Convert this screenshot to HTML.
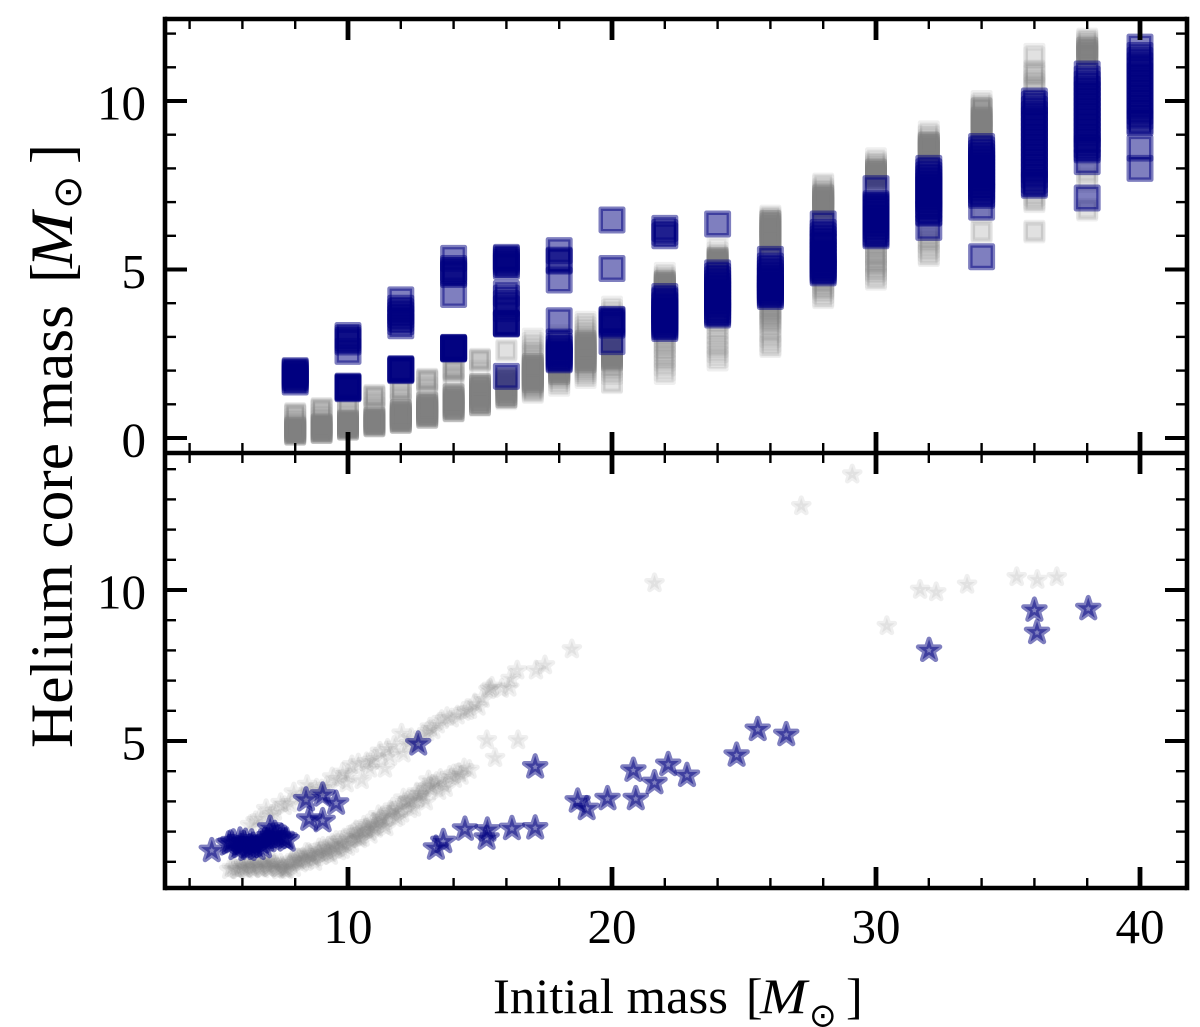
<!DOCTYPE html>
<html>
<head>
<meta charset="utf-8">
<title>Helium core mass vs initial mass</title>
<style>
html,body{margin:0;padding:0;background:#fff;}
svg{display:block;}
text{font-family:"Liberation Serif",serif;fill:#000;}
</style>
</head>
<body>
<svg id="chart" xmlns="http://www.w3.org/2000/svg" width="1200" height="1027" viewBox="0 0 1200 1027">
<g id="gGraySq"></g>
<g id="gBlueSq"></g>
<g id="gGrayStar"></g>
<g id="gBlueStar"></g>
<g id="gAxes"></g>
<g id="gLabels"></g>
<g>
<text x="493" y="1013" font-size="50" textLength="235" lengthAdjust="spacingAndGlyphs">Initial mass</text>
<text x="746" y="1013" font-size="50">[</text>
<text x="760" y="1013" font-size="50" font-style="italic" textLength="47" lengthAdjust="spacingAndGlyphs">M</text>
<text x="809" y="1026.5" font-size="33" style="font-family:'DejaVu Sans',sans-serif">⊙</text>
<text x="846" y="1013" font-size="50">]</text>
</g>
<g transform="translate(72,748) rotate(-90)">
<text x="0" y="0" font-size="60" textLength="443" lengthAdjust="spacingAndGlyphs">Helium core mass</text>
<text x="465" y="0" font-size="60">[</text>
<text x="480" y="0" font-size="60" font-style="italic" textLength="56" lengthAdjust="spacingAndGlyphs">M</text>
<text x="539" y="9" font-size="40" style="font-family:'DejaVu Sans',sans-serif">⊙</text>
<text x="584" y="0" font-size="60">]</text>
</g>
</svg>
<script>
var xTickMajor = [10,20,30,40];
var xTickMinor = [4,6,8,12,14,16,18,22,24,26,28,32,34,36,38];
var topTickMajor = [0,5,10];
var topTickMinor = [1,2,3,4,6,7,8,9,11,12];
var botTickMajor = [5,10];
var botTickMinor = [1,2,3,4,6,7,8,9,11,12,13,14];
var xTickLabels = ["10","20","30","40"];
var topTickLabels = ["0","5","10"];
var botTickLabels = ["5","10"];

var graySquareMasses = [8,9,10,11,12,13,14,15,16,17,18,19,20,22,24,26,28,30,32,34,36,38];
var graySquareCores = [
[0.10,0.12,0.14,0.16,0.18,0.20,0.22,0.24,0.26,0.28,0.30,0.32,0.34,0.36,0.40,0.48,0.56,0.66,0.68,0.70,0.72,0.74],
[0.15,0.17,0.19,0.21,0.23,0.25,0.27,0.29,0.31,0.33,0.35,0.37,0.39,0.41,0.50,0.60,0.70,0.81,0.83,0.85,0.87,0.89],
[0.25,0.27,0.29,0.31,0.33,0.35,0.37,0.39,0.41,0.43,0.45,0.47,0.49,0.51,0.53,0.55,0.70,0.85,0.98,1.00,1.02,1.04],
[0.35,0.37,0.39,0.41,0.43,0.45,0.47,0.49,0.51,0.53,0.55,0.57,0.59,0.62,0.75,0.90,1.05,1.20,1.22,1.24,1.26,1.28],
[0.45,0.47,0.49,0.51,0.53,0.55,0.57,0.59,0.61,0.63,0.65,0.67,0.69,0.71,0.73,0.75,0.77,0.79,0.81,0.83,1.00,1.20,1.39,1.41,1.43,1.45,1.47],
[0.60,0.63,0.66,0.68,0.70,0.72,0.74,0.76,0.78,0.80,0.82,0.84,0.86,0.88,0.90,0.92,0.95,0.98,1.00,1.03,1.07,1.30,1.50,1.68,1.70,1.72,1.74,1.76],
[0.78,0.82,0.85,0.88,0.90,0.92,0.94,0.96,0.98,1.00,1.02,1.04,1.06,1.08,1.10,1.12,1.15,1.18,1.20,1.23,1.26,1.30,1.60,1.80,1.98,2.00,2.02,2.04,2.06,2.08],
[0.95,0.98,1.02,1.05,1.08,1.11,1.14,1.17,1.20,1.23,1.26,1.29,1.32,1.35,1.38,1.41,1.44,1.47,1.50,1.53,1.56,1.60,2.00,2.29,2.31,2.33,2.35],
[1.15,1.19,1.23,1.26,1.29,1.32,1.35,1.38,1.41,1.44,1.47,1.50,1.53,1.56,1.59,1.62,1.65,1.68,1.71,1.74,1.77,1.80,2.58,2.62],
[1.34,1.38,1.42,1.46,1.50,1.53,1.56,1.59,1.62,1.65,1.68,1.71,1.74,1.77,1.80,1.83,1.86,1.89,1.92,1.95,1.98,2.01,2.04,2.07,2.10,2.13,2.16,2.20,2.35,2.45,2.52,2.60,2.72,2.82,2.95],
[1.55,1.62,1.70,1.78,1.82,1.86,1.90,1.93,1.96,1.99,2.02,2.05,2.08,2.11,2.14,2.17,2.20,2.23,2.26,2.29,2.32,2.36,2.40,2.50,2.60,2.75,2.90,3.05],
[1.78,1.85,1.92,1.98,2.04,2.10,2.16,2.22,2.25,2.28,2.31,2.34,2.37,2.40,2.43,2.46,2.49,2.52,2.55,2.58,2.61,2.64,2.67,2.70,2.73,2.76,2.79,2.82,2.85,2.90,3.00,3.08,3.18,3.28,3.37,3.45],
[1.63,1.66,1.90,2.00,2.10,2.18,2.25,2.30,2.33,2.36,2.40,2.43,2.46,2.50,2.53,2.56,2.60,2.63,2.66,2.70,2.75,2.80,3.55,3.60,3.70,3.80,3.90],
[1.90,2.00,2.15,2.30,2.40,2.50,2.60,2.70,2.80,2.90,3.00,3.10,4.30,4.33,4.36,4.39,4.42,4.45,4.48,4.51,4.54,4.57,4.60,4.63,4.66,4.70,4.75,4.80,4.90],
[2.30,2.40,2.55,2.70,2.80,2.95,3.10,3.25,3.40,3.50,3.60,5.00,5.03,5.06,5.09,5.12,5.15,5.18,5.21,5.24,5.27,5.30,5.33,5.36,5.40,5.50,5.66],
[2.70,2.75,2.85,3.00,3.15,3.30,3.40,3.45,3.50,3.55,3.60,3.65,3.70,3.75,3.80,3.85,3.90,4.00,4.10,5.40,5.50,5.60,5.70,5.75,5.78,5.81,5.84,5.87,5.90,5.93,5.96,5.99,6.02,6.05,6.08,6.11,6.14,6.17,6.20,6.23,6.26,6.29,6.32,6.35,6.38,6.41,6.44,6.47,6.50,6.55,6.60],
[4.15,4.20,4.30,4.40,4.45,4.50,4.60,4.70,4.80,6.50,6.60,6.70,6.76,6.80,6.83,6.86,6.89,6.92,6.95,6.98,7.01,7.04,7.07,7.10,7.13,7.16,7.19,7.22,7.25,7.30,7.35,7.40,7.50,7.55],
[4.70,4.75,4.85,4.95,5.00,5.10,5.20,5.25,5.30,5.40,5.45,5.50,5.60,5.70,5.80,5.90,7.50,7.60,7.65,7.70,7.73,7.76,7.79,7.82,7.85,7.88,7.91,7.94,7.97,8.00,8.05,8.10,8.15,8.20,8.30],
[5.40,5.45,5.55,5.65,5.80,5.90,6.00,6.10,8.20,8.30,8.40,8.45,8.50,8.53,8.56,8.59,8.62,8.65,8.68,8.71,8.74,8.77,8.80,8.85,8.95,9.00,9.10],
[6.10,6.15,6.70,8.80,8.90,9.00,9.05,9.10,9.13,9.16,9.19,9.22,9.25,9.28,9.31,9.34,9.37,9.40,9.43,9.46,9.49,9.52,9.55,9.60,9.70,9.75,9.80,9.85,9.90,10.00],
[6.10,6.15,7.00,7.05,7.10,7.20,10.30,10.40,10.50,10.60,10.75,10.80,10.85,10.90,11.30,11.40],
[6.75,6.80,7.60,7.70,7.90,11.10,11.20,11.30,11.35,11.40,11.45,11.50,11.55,11.60,11.65,11.70,11.75,11.80,11.85]
];
var graySolidMasses = [8,9,10,11,12,13,14,15,16,17,18,19,20,22,24,26,28,30,32,34,38];
var graySolidCores = [
[0.10,0.15,0.20,0.25,0.30],
[0.15,0.20,0.25,0.30,0.35,0.40],
[0.25,0.30,0.35,0.40,0.45,0.50],
[0.35,0.40,0.45,0.50,0.55,0.60],
[0.45,0.50,0.55,0.60,0.65,0.70,0.75,0.83],
[0.60,0.66,0.72,0.78,0.84,0.90,0.96,1.05],
[0.80,0.87,0.94,1.00,1.07,1.14,1.20,1.30],
[0.98,1.06,1.14,1.22,1.30,1.38,1.46,1.55,1.60],
[1.20,1.28,1.36,1.44,1.52,1.60,1.68,1.76],
[1.66,1.72,1.78,1.84,1.90,1.96,2.02,2.08,2.14,2.20],
[1.90,1.96,2.02,2.08,2.14,2.20,2.26,2.32],
[2.25,2.32,2.39,2.46,2.53,2.60,2.67,2.74,2.81,2.88],
[2.30,2.36,2.42,2.48,2.54,2.60,2.66,2.72,2.78],
[4.45,4.50,4.55,4.60,4.65],
[5.10,5.15,5.20,5.25,5.30,5.35],
[5.80,5.88,5.96,6.04,6.12,6.20,6.28,6.36,6.44],
[6.80,6.88,6.96,7.04,7.12,7.20],
[7.72,7.78,7.84,7.90,7.96],
[8.52,8.58,8.64,8.70,8.76],
[9.15,9.22,9.29,9.36,9.43,9.50,9.78],
[11.35,11.42,11.50,11.58]
];

var blueSquareMasses = [8,10,12,14,16,18,20,22,24,26,28,30,32,34,36,38,40];
var blueSquareCores = [
[1.66,1.72,1.78,1.82,1.86,1.90,1.94,1.97,2.00],
[1.46,1.48,1.50,1.52,1.54,1.50,2.57,2.85,2.90,2.97,3.04],
[2.00,2.02,2.04,2.06,2.03,3.33,3.45,3.55,3.65,3.75,3.85,4.10],
[2.64,2.65,2.66,2.67,2.68,2.69,4.26,4.85,4.90,4.97,5.03,5.33],
[1.83,3.38,3.40,3.40,3.42,3.84,3.99,4.15,4.29,5.09,5.15,5.22,5.28,5.33,5.36],
[2.32,2.35,2.40,2.45,2.50,2.55,2.65,2.72,2.85,3.48,4.69,5.25,5.28,5.56],
[2.86,3.35,3.40,3.45,3.50,3.52,5.03,6.47],
[3.25,3.30,3.35,3.40,3.45,3.50,3.55,3.60,3.70,3.75,3.80,3.90,3.95,4.05,4.10,4.20,6.00,6.10,6.22],
[3.65,3.70,3.75,3.80,3.90,4.00,4.10,4.20,4.30,4.40,4.50,4.60,4.70,4.80,4.90,6.35],
[4.20,4.25,4.30,4.35,4.40,4.45,4.50,4.60,4.70,4.80,4.90,5.00,5.10,5.30],
[4.90,4.95,5.00,5.05,5.10,5.15,5.25,5.35,5.45,5.55,5.70,5.80,5.90,6.00,6.10,6.35],
[6.00,6.05,6.10,6.20,6.30,6.40,6.50,6.60,6.70,6.80,6.85,6.90,6.95,7.40],
[6.25,6.67,6.70,6.80,6.90,7.00,7.10,7.20,7.30,7.40,7.50,7.60,7.70,7.80,7.90,8.00],
[5.38,6.85,7.20,7.25,7.35,7.45,7.55,7.65,7.75,7.85,7.95,8.05,8.15,8.25,8.35,8.45,8.55,8.65],
[7.50,7.55,7.65,7.80,7.95,8.10,8.25,8.40,8.55,8.70,8.85,9.00,9.15,9.30,9.45,9.60,9.75,9.90,10.00],
[7.12,8.20,8.55,8.60,8.70,8.85,9.00,9.15,9.30,9.45,9.60,9.75,9.90,10.05,10.20,10.35,10.50,10.65,10.80],
[8.00,8.60,9.35,9.40,9.55,9.70,9.85,10.00,10.15,10.30,10.45,10.60,10.75,10.90,11.05,11.20,11.35,11.60]
];

var grayStarMass = [29.10,27.17,21.61,30.41,31.67,32.28,33.45,35.33,36.11,36.85,18.48,17.46,17.12,16.41,16.16,16.11,15.82,16.44,15.26,15.57,
6.29,6.67,7.23,7.80,8.24,8.81,9.19,9.63,9.95,10.39,10.52,10.83,11.21,11.40,11.59,12.03,12.10,12.60,13.23,13.55,13.93,14.37,14.62,14.94,15.38,15.32,7.10,7.60,8.60,9.00,
6.50,6.90,7.45,7.95,8.45,9.40,9.80,10.15,10.70,11.05,11.75,12.30,12.85,13.10,13.40,13.75,14.15,14.50,14.80,15.10,15.45,10.00,10.90,11.50,12.40,13.00,
5.50,5.70,5.85,6.00,6.15,6.30,6.45,6.60,6.75,6.90,7.05,7.20,7.35,7.50,7.65,7.80,7.95,8.05,8.20,8.30,8.45,8.60,8.75,8.85,9.00,9.15,9.30,9.45,9.60,9.75,9.90,10.05,10.20,10.35,10.50,10.65,10.80,10.95,11.10,11.25,11.40,11.55,11.70,11.85,12.00,12.15,12.30,12.45,12.60,12.75,12.90,13.05,13.20,13.35,13.50,13.65,13.85,14.00,14.20,14.40,14.60,
5.60,5.80,5.95,6.10,6.25,6.40,6.55,6.70,6.85,7.00,7.15,7.30,7.45,7.60,7.72,7.90,8.10,8.35,8.55,8.70,8.95,9.10,9.25,9.50,9.70,10.10,10.40,10.70,11.00,11.30,
6.05,6.35,6.65,6.95,7.25,7.55,7.85,8.15,8.40,8.65,8.90,9.20,9.40,9.65,9.85,10.00,10.25,10.45,10.60,10.85,11.05,11.20,11.45,11.65,11.80,12.05,12.25,12.50,12.70,12.95,13.15,13.45,13.70,14.05,14.30,
7.00,7.40,7.70,8.00,8.25,8.50,8.80,9.05,9.35,9.55,9.80,10.15,10.30,10.55,10.75,10.90,11.15,11.35,11.60,11.90,12.10,12.35,12.65,12.85,13.10];
var grayStarCore = [13.83,12.78,10.23,8.81,10.01,9.93,10.18,10.43,10.34,10.43,8.04,7.51,7.34,7.34,7.06,6.77,6.73,5.03,5.03,4.44,
2.22,2.44,2.66,2.94,3.16,3.43,3.49,3.71,3.60,4.26,3.71,4.09,4.65,4.09,4.48,5.25,4.59,4.92,5.36,5.70,5.75,5.97,6.03,6.14,6.74,6.69,2.55,2.85,3.30,3.40,
2.35,2.75,2.95,3.30,3.55,3.80,3.95,4.20,4.30,4.45,4.85,4.90,5.20,5.45,5.55,5.80,5.85,6.00,6.25,6.40,6.80,3.90,4.35,4.75,5.10,5.30,
0.73,0.78,0.72,0.80,0.75,0.83,0.78,0.85,0.76,0.88,0.80,0.90,0.78,0.85,0.72,0.90,0.80,1.00,0.95,1.15,1.05,1.20,1.00,1.30,1.20,1.40,1.30,1.55,1.45,1.60,1.55,1.75,1.95,1.85,2.00,2.05,2.00,2.30,2.25,2.45,2.35,2.55,2.80,2.70,2.85,2.95,3.05,3.05,3.30,3.30,3.45,3.70,3.55,3.65,3.75,3.60,3.85,3.90,3.95,4.10,4.05,
0.80,0.74,0.86,0.78,0.90,0.76,0.92,0.80,0.95,0.78,0.98,0.82,0.94,0.76,0.84,1.05,1.12,1.10,1.25,1.15,1.35,1.25,1.50,1.40,1.70,1.90,1.80,2.10,2.15,2.50,
0.92,0.88,0.96,0.82,0.94,0.78,1.00,1.08,1.30,1.10,1.45,1.30,1.60,1.35,1.78,1.50,1.80,1.75,2.20,1.90,2.10,2.40,2.15,2.65,2.45,2.60,3.00,2.80,3.20,3.00,3.45,3.35,3.45,3.75,3.85,
1.05,0.72,0.76,1.12,1.00,1.30,1.15,1.50,1.20,1.70,1.40,1.60,2.05,1.80,2.25,2.10,2.55,2.20,2.70,2.50,3.10,2.75,3.10,3.20,3.50];

var blueStarMass = [4.84,5.47,5.66,5.81,6.04,6.19,6.35,6.54,6.69,6.86,7.05,7.02,7.23,7.49,7.68,5.91,6.29,5.55,5.95,6.12,6.42,6.78,6.95,7.15,7.35,7.60,12.66,8.41,9.04,9.55,8.53,9.04,17.09,13.33,13.61,14.43,15.28,15.25,16.21,17.09,18.70,19.04,19.83,20.90,20.81,21.61,22.13,22.84,24.72,25.52,26.60,32.01,36.00,36.10,38.04];
var blueStarCore = [1.37,1.59,1.66,1.44,1.61,1.41,1.66,1.44,1.66,1.72,2.11,1.83,1.94,1.83,1.72,1.72,1.50,1.62,1.50,1.68,1.55,1.50,1.70,1.85,1.80,1.78,4.90,3.05,3.21,2.94,2.41,2.36,4.14,1.45,1.67,2.08,2.05,1.78,2.10,2.12,3.01,2.76,3.09,3.09,4.03,3.62,4.22,3.86,4.53,5.38,5.21,8.00,9.33,8.59,9.38];

var NS = "http://www.w3.org/2000/svg";
var frameL = 165, frameR = 1187, frameT = 19, frameM = 453, frameB = 888;
function xPos(m){ return 348 + (m - 10) * 26.4; }
function yTop(v){ return 438 - v * 33.7; }
function yBot(v){ return 741 - (v - 5) * 30.2; }
function make(tag, attrs, parent){
  var el = document.createElementNS(NS, tag);
  for (var k in attrs) el.setAttribute(k, attrs[k]);
  parent.appendChild(el);
  return el;
}
function starPoints(cx, cy, r){
  var pts = [];
  for (var i = 0; i < 10; i++){
    var rad = i % 2 ? r * 0.381966 : r;
    var ang = -Math.PI / 2 + i * Math.PI / 5;
    pts.push((cx + rad * Math.cos(ang)).toFixed(2) + "," + (cy + rad * Math.sin(ang)).toFixed(2));
  }
  return pts.join(" ");
}

var gGraySq = document.getElementById("gGraySq");
graySquareMasses.forEach(function(m, i){
  graySquareCores[i].forEach(function(v){
    var s = 17.5;
    var el = make("rect", {x: xPos(m) - s / 2, y: yTop(v) - s / 2, width: s, height: s, fill: "#808080", "fill-opacity": 0.13, stroke: "#808080", "stroke-opacity": 0.13, "stroke-width": 4.5, "stroke-linejoin": "round"}, gGraySq);
    
    
  });
});
graySolidMasses.forEach(function(m, i){
  graySolidCores[i].forEach(function(v){
    var s = 17.5;
    var el = make("rect", {x: xPos(m) - s / 2, y: yTop(v) - s / 2, width: s, height: s, fill: "#808080", "fill-opacity": 0.4, stroke: "#808080", "stroke-opacity": 0.4, "stroke-width": 4.5, "stroke-linejoin": "round"}, gGraySq);
    
    
  });
});

var gBlueSq = document.getElementById("gBlueSq");
blueSquareMasses.forEach(function(m, i){
  blueSquareCores[i].forEach(function(v){
    var s = 22.5;
    var el = make("rect", {x: xPos(m) - s / 2, y: yTop(v) - s / 2, width: s, height: s, fill: "#000080", "fill-opacity": 0.5, stroke: "#000080", "stroke-opacity": 0.5, "stroke-width": 4.5, "stroke-linejoin": "round"}, gBlueSq);
    
    
  });
});

var gGrayStar = document.getElementById("gGrayStar");
grayStarMass.forEach(function(m, i){
  var el = make("polygon", {points: starPoints(xPos(m), yBot(grayStarCore[i]), 8.2), fill: "#808080", "fill-opacity": 0.13, stroke: "#808080", "stroke-opacity": 0.13, "stroke-width": 5, "stroke-linejoin": "round"}, gGrayStar);
  
  
});

var gBlueStar = document.getElementById("gBlueStar");
blueStarMass.forEach(function(m, i){
  var el = make("polygon", {points: starPoints(xPos(m), yBot(blueStarCore[i]), 11.3), fill: "#000080", "fill-opacity": 0.5, stroke: "#000080", "stroke-opacity": 0.5, "stroke-width": 5, "stroke-linejoin": "round"}, gBlueStar);
  
  
});

var gAxes = document.getElementById("gAxes");
function line(x1, y1, x2, y2, w, name){
  var el = make("line", {x1: x1, y1: y1, x2: x2, y2: y2, stroke: "#000", "stroke-width": w}, gAxes);
  
  
}
[[frameT, frameM], [frameM, frameB]].forEach(function(p){
  xTickMajor.forEach(function(m){
    line(xPos(m), p[0], xPos(m), p[0] + 21, 4.8, 'x-major-tick');
    line(xPos(m), p[1], xPos(m), p[1] - 21, 4.8, 'x-major-tick');
  });
  xTickMinor.forEach(function(m){
    line(xPos(m), p[0], xPos(m), p[0] + 10, 2.4, 'x-minor-tick');
    line(xPos(m), p[1], xPos(m), p[1] - 10, 2.4, 'x-minor-tick');
  });
});
topTickMajor.forEach(function(v){
  line(frameL, yTop(v), frameL + 22, yTop(v), 4, 'y-major-tick');
  line(frameR, yTop(v), frameR - 22, yTop(v), 4, 'y-major-tick');
});
topTickMinor.forEach(function(v){
  line(frameL, yTop(v), frameL + 11, yTop(v), 2.4, 'y-minor-tick');
  line(frameR, yTop(v), frameR - 11, yTop(v), 2.4, 'y-minor-tick');
});
botTickMajor.forEach(function(v){
  line(frameL, yBot(v), frameL + 22, yBot(v), 4, 'y-major-tick');
  line(frameR, yBot(v), frameR - 22, yBot(v), 4, 'y-major-tick');
});
botTickMinor.forEach(function(v){
  line(frameL, yBot(v), frameL + 11, yBot(v), 2.4, 'y-minor-tick');
  line(frameR, yBot(v), frameR - 11, yBot(v), 2.4, 'y-minor-tick');
});
line(frameL, frameT - 2.2, frameL, frameB + 2.2, 4.6, 'left-spine');
line(frameR, frameT - 2.2, frameR, frameB + 2.2, 4.6, 'right-spine');
line(frameL, frameT, frameR, frameT, 4.4, 'top-spine');
line(frameL, frameM, frameR, frameM, 4.4, 'middle-spine');
line(frameL, frameB, frameR, frameB, 4.4, 'bottom-spine');

var gLabels = document.getElementById("gLabels");
function label(x, y, str, anchor, name){
  var el = make("text", {x: x, y: y, "font-size": 49, "text-anchor": anchor}, gLabels);
  el.textContent = str;
  
  
}
xTickMajor.forEach(function(m, i){ label(xPos(m), 943, xTickLabels[i], "middle", 'x-tick-label'); });
topTickMajor.forEach(function(v, i){ label(146, yTop(v) + 18.5, topTickLabels[i], "end", 'y-tick-label-top'); });
botTickMajor.forEach(function(v, i){ label(146, yBot(v) + 18.5, botTickLabels[i], "end", 'y-tick-label-bottom'); });
</script>
</body>
</html>
